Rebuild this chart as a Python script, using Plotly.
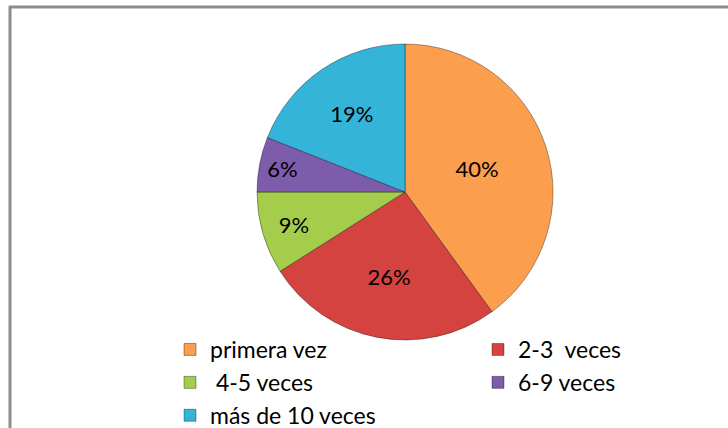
import plotly.graph_objects as go

categories = ["primera vez", "2-3  veces", " 4-5 veces", "6-9 veces", "más de 10 veces"]
values = [40, 26, 9, 6, 19]
colors = ["#FB9E4E", "#D4433F", "#A5CD4C", "#7D5CAC", "#34B4D8"]

fig = go.Figure(go.Pie(
    labels=categories,
    values=values,
    sort=False,
    direction="clockwise",
    rotation=0,
    marker=dict(colors=colors, line=dict(color="rgba(0,0,0,0.35)", width=1)),
    textinfo="percent",
    texttemplate="%{percent:.0%}",
    textposition="inside",
    insidetextorientation="horizontal",
    textfont=dict(family="Lato", size=22, color="black"),
    domain=dict(x=[(405 - 148) / 728, (405 + 148) / 728], y=[1 - 340 / 428, 1 - 44 / 428]),
    hoverinfo="label+percent",
))

fig.update_layout(
    width=728, height=428,
    margin=dict(l=0, r=0, t=0, b=0, autoexpand=False),
    paper_bgcolor="white",
    plot_bgcolor="white",
    font=dict(family="Lato", size=22, color="black"),
    showlegend=True,
    legend=dict(
        orientation="h",
        x=170 / 728, xanchor="left",
        y=1 - 328 / 428, yanchor="top",
        entrywidth=263,
        font=dict(family="Lato", size=23, color="black"),
        itemwidth=30,
        bgcolor="rgba(0,0,0,0)",
    ),
    shapes=[
        dict(type="line", xref="paper", yref="paper", x0=9 / 728, x1=1, y0=1 - 7 / 428, y1=1 - 7 / 428,
             line=dict(color="#8C8C8C", width=3)),
        dict(type="line", xref="paper", yref="paper", x0=10 / 728, x1=10 / 728, y0=0, y1=1 - 6 / 428,
             line=dict(color="#8C8C8C", width=3)),
    ],
)

fig.write_html(
    "out.html",
    config={"displayModeBar": False},
    post_script="document.body.style.margin='0px';document.body.style.overflow='hidden';",
)
